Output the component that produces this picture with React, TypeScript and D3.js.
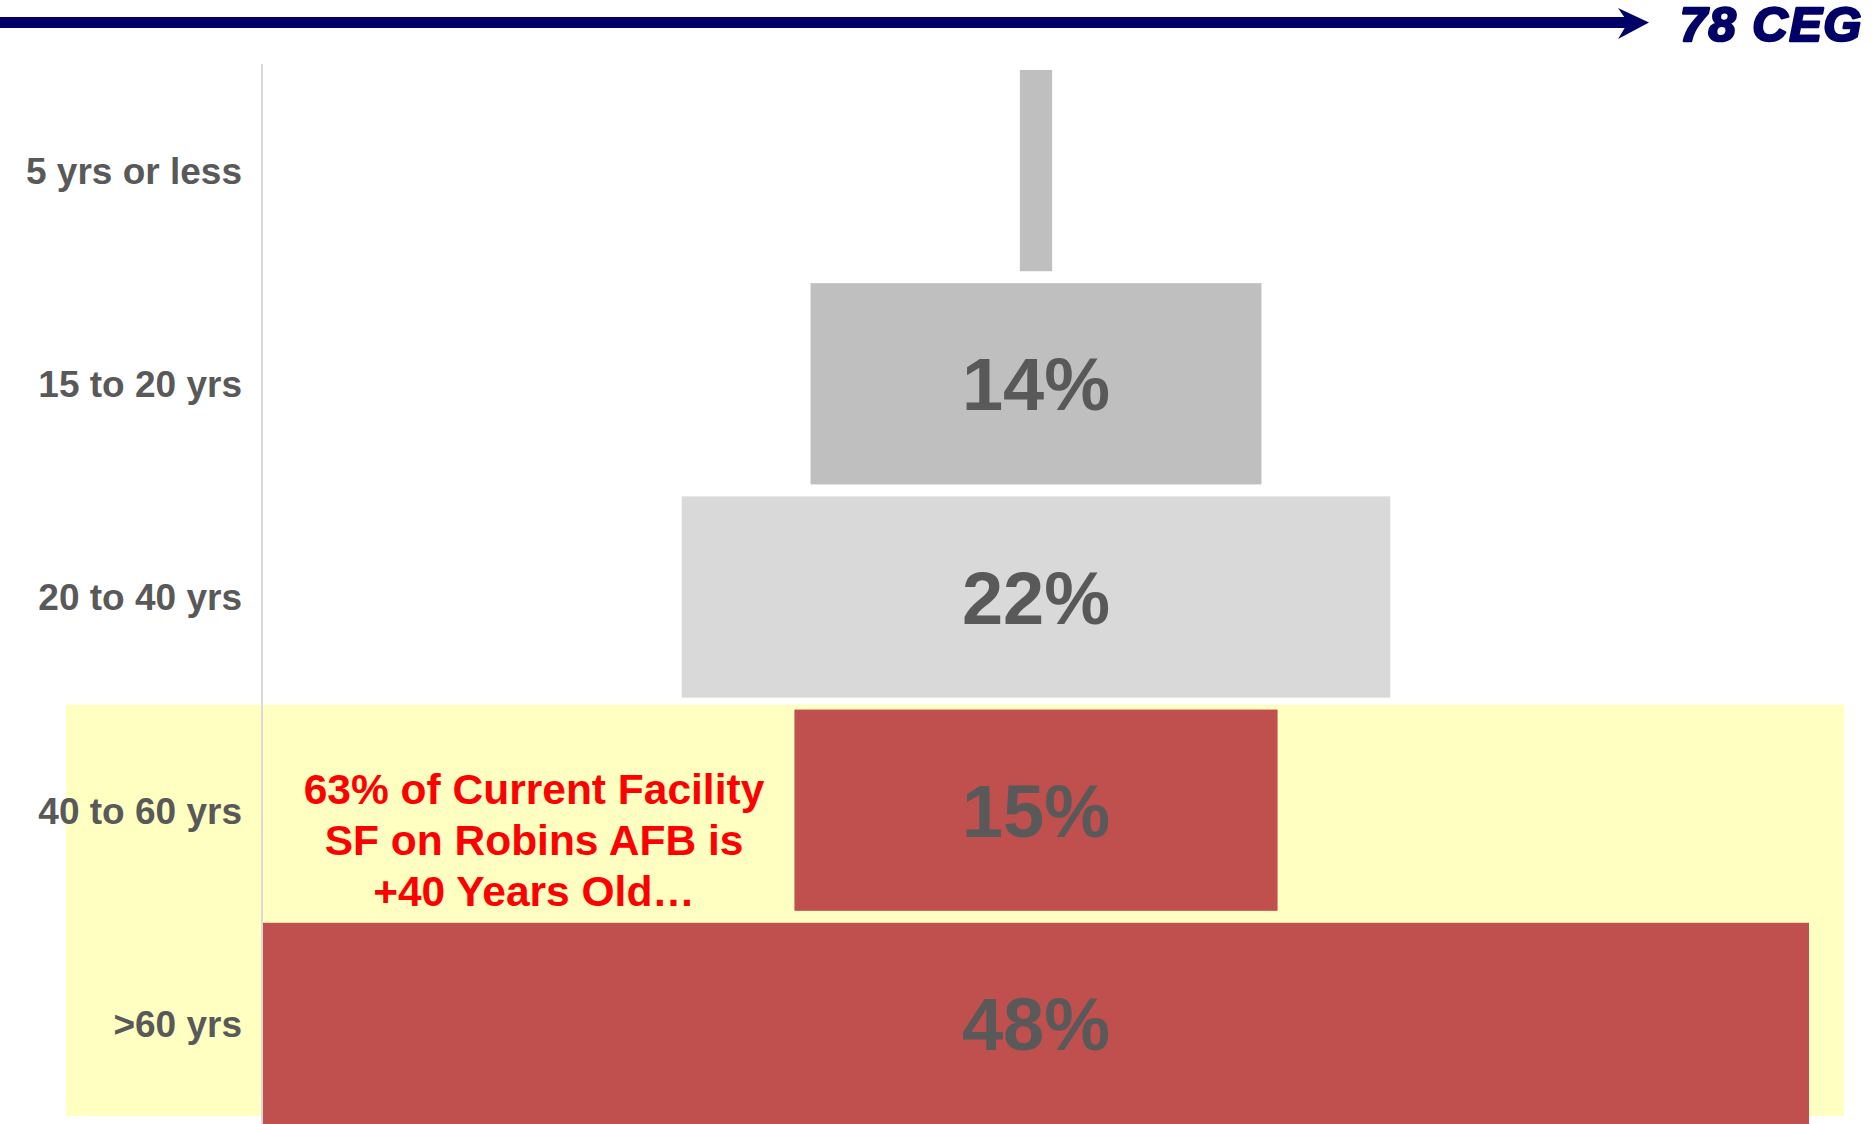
import React, { useEffect, useRef } from 'react';
import * as d3 from 'd3';

// Facility square footage by age
const categories = ['5 yrs or less', '15 to 20 yrs', '20 to 40 yrs', '40 to 60 yrs', '>60 yrs'];
const shares = [1, 14, 22, 15, 48];
const barColors = ['#bfbfbf', '#bfbfbf', '#d9d9d9', '#c0504d', '#c0504d'];
const noteLines = ['63% of Current Facility', 'SF on Robins AFB is', '+40 Years Old…'];
const badge = '78 CEG';

const App = () => {
  const ref = useRef<SVGSVGElement>(null);

  useEffect(() => {
    const width = 1872;
    const height = 1124;
    const left = 263;
    const right = 1809;
    const cx = (left + right) / 2;
    const font = '"Liberation Sans", Arial, sans-serif';

    const svg = d3.select(ref.current);
    svg.selectAll('*').remove();

    const y = d3
      .scaleBand<string>()
      .domain(categories)
      .range([64, 1130])
      .paddingInner(0.056)
      .paddingOuter(0.028);

    const w = d3
      .scaleLinear()
      .domain([0, d3.max(shares) as number])
      .range([0, right - left]);

    // highlight box behind the two oldest groups
    const hiTop = (y('40 to 60 yrs') as number) - 5;
    svg
      .append('rect')
      .attr('x', 66)
      .attr('y', hiTop)
      .attr('width', 1844 - 66)
      .attr('height', 1116 - hiTop)
      .attr('fill', '#ffffc2');

    // axis line
    svg
      .append('line')
      .attr('x1', 262)
      .attr('x2', 262)
      .attr('y1', 64)
      .attr('y2', height)
      .attr('stroke', '#d9d9d9')
      .attr('stroke-width', 2);

    const data = categories.map((c, i) => ({ c, v: shares[i], color: barColors[i] }));

    svg
      .append('g')
      .selectAll('rect')
      .data(data)
      .join('rect')
      .attr('x', (d) => cx - w(d.v) / 2)
      .attr('y', (d) => y(d.c) as number)
      .attr('width', (d) => w(d.v))
      .attr('height', y.bandwidth())
      .attr('fill', (d) => d.color);

    // value labels (only where they fit)
    svg
      .append('g')
      .selectAll('text')
      .data(data.filter((d) => w(d.v) > 160))
      .join('text')
      .attr('x', cx)
      .attr('y', (d) => (y(d.c) as number) + y.bandwidth() / 2)
      .attr('dy', '0.36em')
      .attr('text-anchor', 'middle')
      .attr('font-family', font)
      .attr('font-weight', 'bold')
      .attr('font-size', 74)
      .attr('fill', '#595959')
      .text((d) => `${d.v}%`);

    // category labels
    svg
      .append('g')
      .selectAll('text')
      .data(categories)
      .join('text')
      .attr('x', 242)
      .attr('y', (d) => (y(d) as number) + y.bandwidth() / 2)
      .attr('dy', '0.36em')
      .attr('text-anchor', 'end')
      .attr('font-family', font)
      .attr('font-weight', 'bold')
      .attr('font-size', 37)
      .attr('fill', '#595959')
      .text((d) => d);

    // annotation
    svg
      .append('text')
      .attr('text-anchor', 'middle')
      .attr('font-family', font)
      .attr('font-weight', 'bold')
      .attr('font-size', 42.5)
      .attr('fill', '#ff0000')
      .selectAll('tspan')
      .data(noteLines)
      .join('tspan')
      .attr('x', 534)
      .attr('y', (d, i) => 804 + i * 51)
      .text((d) => d);

    // header arrow
    svg
      .append('rect')
      .attr('x', 0)
      .attr('y', 17)
      .attr('width', 1632)
      .attr('height', 11)
      .attr('fill', '#000066');
    svg
      .append('path')
      .attr('d', 'M1618,8 L1649,22.5 L1618,39 L1628,22.5 Z')
      .attr('fill', '#000066');
    svg
      .append('text')
      .attr('x', 1863)
      .attr('y', 41)
      .attr('text-anchor', 'end')
      .attr('font-family', font)
      .attr('font-weight', 'bold')
      .attr('font-style', 'italic')
      .attr('font-size', 49)
      .attr('letter-spacing', 1.5)
      .attr('fill', '#000066')
      .attr('stroke', '#000066')
      .attr('stroke-width', 2.5)
      .attr('stroke-linejoin', 'round')
      .text(badge);

    svg.attr('width', width).attr('height', height);
  }, []);

  return (
    <svg
      ref={ref}
      width={1872}
      height={1124}
      style={{ position: 'absolute', left: 0, top: 0, background: '#fff' }}
    />
  );
};

export default App;
